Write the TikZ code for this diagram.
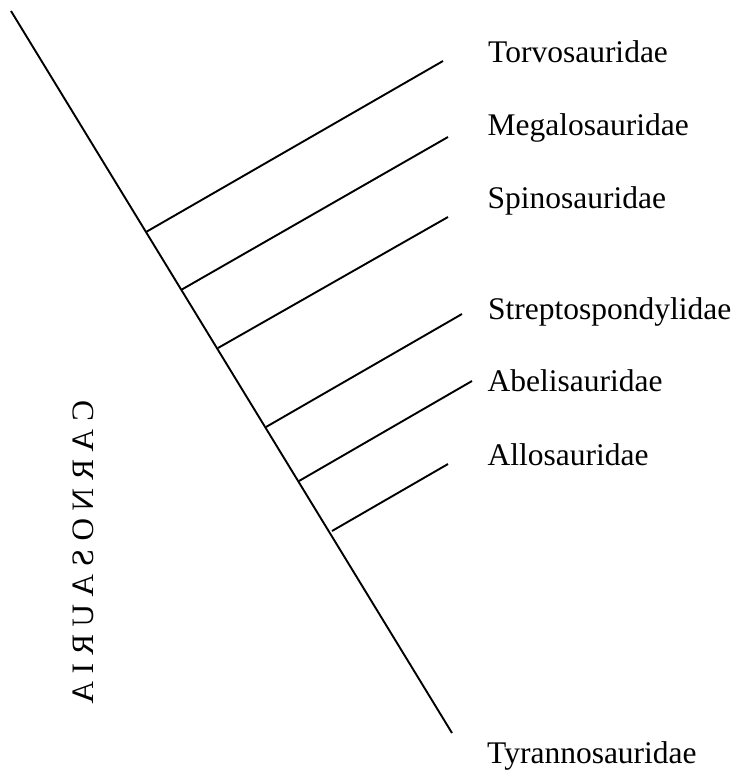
\documentclass[tikz,border=0pt]{standalone}
\usepackage{fontspec}
\setmainfont{Liberation Serif}
\usepackage{graphicx}
\begin{document}
\begin{tikzpicture}[x=1pt,y=-1pt,
  branch/.style={line width=1.9pt, line cap=butt},
  taxon/.style={anchor=base west, inner sep=0pt, font=\fontsize{31.5}{36}\selectfont},
  cladename/.style={rotate=-90, inner sep=0pt, font=\fontsize{31.2}{36}\selectfont}]
\useasboundingbox (0,0) rectangle (741,774);
% main stem
\coordinate (top) at (11,11);
\coordinate (bot) at (452,733);
% junctions on the stem
\coordinate (j1) at (146,232);
\coordinate (j2) at (181,290);
\coordinate (j3) at (218,348);
\coordinate (j4) at (266,427);
\coordinate (j5) at (299,481);
\coordinate (j6) at (332,531);
% branch tips
\coordinate (t1) at (443,61);
\coordinate (t2) at (448,137);
\coordinate (t3) at (448,217);
\coordinate (t4) at (462,314);
\coordinate (t5) at (472,381);
\coordinate (t6) at (448,464);
\draw[branch] (top) -- (bot);
\foreach \i in {1,...,6} \draw[branch] (j\i) -- (t\i);
% taxon labels
\node[taxon] (torvo) at (488,62.7) {Torvosauridae};
\node[taxon] (megalo) at (487.5,135) {Megalosauridae};
\node[taxon] (spino) at (487.5,208) {Spinosauridae};
\node[taxon] (strepto) at (488,319) {Streptospondylidae};
\node[taxon] (abeli) at (487.5,391.7) {Abelisauridae};
\node[taxon] (allo) at (487.5,465) {Allosauridae};
\node[taxon] (tyranno) at (487,763) {Tyrannosauridae};
% clade name (mirrored vertical text, as in the reference)
\node[cladename] (carno) at (83,552.5) {\scalebox{1}[-1]{C A R N O S A U R I A}};
\end{tikzpicture}
\end{document}
